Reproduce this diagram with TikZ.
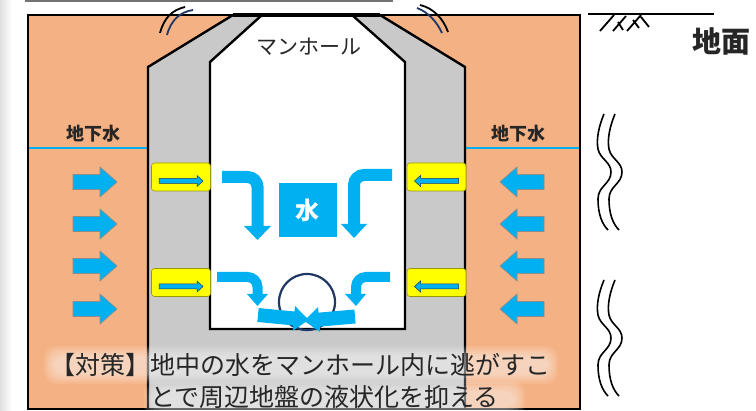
\documentclass[tikz,border=0pt]{standalone}
\usepackage{fontspec}
\setmainfont{Noto Sans CJK JP}
\usepackage{xcolor}
\usetikzlibrary{positioning}

\definecolor{soil}{HTML}{F4B183}
\definecolor{concrete}{HTML}{C9C9C9}
\definecolor{water}{HTML}{00B0F0}
\definecolor{navy}{HTML}{1F3864}
\definecolor{ventyellow}{HTML}{FFFF00}
\definecolor{ink}{HTML}{262626}

\tikzset{
  gwlabel/.style={font=\bfseries\fontsize{18}{18}\selectfont, text=ink, inner sep=0pt},
  captext/.style={font=\fontsize{25}{25}\selectfont, text=ink, inner sep=0pt, anchor=west},
  glow/.style={fill=white, fill opacity=0.1, rounded corners=12pt},
  ventbox/.style={draw=black!40!ventyellow, fill=ventyellow, rounded corners=3pt,
    minimum width=59pt, minimum height=28pt, inner sep=0pt, line width=0.6pt},
  flow/.style={water, line width=12pt, rounded corners=10pt},
  inflow/.pic={\filldraw[fill=water, draw=black!45, line width=0.6pt]
    (-22,-7.5) -- (5,-7.5) -- (5,-15) -- (22,0) -- (5,15) -- (5,7.5) -- (-22,7.5) -- cycle;},
  ventarrow/.pic={\filldraw[fill=water, draw=navy, line width=0.5pt]
    (-22,-2.5) -- (16,-2.5) -- (16,-5.5) -- (22,0) -- (16,5.5) -- (16,2.5) -- (-22,2.5) -- cycle;},
  fatarrow/.pic={\fill[water]
    (0,-7) -- (36,-7) -- (36,-12.5) -- (51,0) -- (36,12.5) -- (36,7) -- (0,7) -- cycle;},
  breakmark/.pic={\foreach \dx in {0,11}
    \draw[line width=1.6pt, xshift=\dx] (8,0) .. controls (3,12) and (0,25) .. (2,35)
      .. controls (4,45) and (15,48) .. (15,58) .. controls (15,70) and (2,72) .. (2,85)
      .. controls (2,100) and (6,110) .. (12,116);}
}

\begin{document}
\begin{tikzpicture}[x=1pt, y=-1pt]
\useasboundingbox (0,0) rectangle (756,411);

% page edge
\shade[left color=black!12, right color=white] (0,0) rectangle (12,411);
\fill[black!55] (25,0) rectangle (393,2.5);

% ground and manhole
\fill[soil] (28,15) rectangle (580,409);
\draw[water, line width=1.3pt] (28,148) -- (148,148) (465,148) -- (580,148);
\filldraw[fill=concrete, draw=black, line width=2.4pt, line join=miter]
  (148,409) -- (148,67) -- (233,15) -- (380,15) -- (465,67) -- (465,409);
\filldraw[fill=white, draw=black, line width=2.4pt, line join=miter]
  (210,329) -- (210,62) -- (262,15) -- (352,15) -- (405,62) -- (405,329) -- cycle;
\draw[line width=1.4pt] (28,15) rectangle (580,409);
\draw[line width=3.5pt] (233,15) -- (380,15);

% joints at the top
\draw[line width=1.8pt] (160,33) .. controls (164,18) and (172,10) .. (185,7);
\draw[navy, line width=1.8pt] (167,35) .. controls (171,20) and (180,12) .. (193,10);
\draw[line width=1.8pt] (420,5) .. controls (433,8) and (443,18) .. (448,32);
\draw[navy, line width=1.8pt] (417,8) .. controls (428,12) and (437,22) .. (442,33);

\node[gwlabel] (gwleft) at (93,134) {地下水};
\node[gwlabel] (gwright) at (518,134) {地下水};
\node[font=\fontsize{21}{21}\selectfont, text=ink, inner sep=0pt] (manhole) at (309,47) {マンホール};

% groundwater pushing in
\foreach \y in {182,224,266,309} {
  \pic at (95,\y) {inflow};
  \pic[xscale=-1] at (522,\y) {inflow};
}

% openings in the wall
\node[ventbox] (ventLa) at (181,177) {};
\node[ventbox] (ventLb) at (181,282.5) {};
\node[ventbox] (ventRa) at (436.5,177) {};
\node[ventbox] (ventRb) at (436.5,282.5) {};
\pic at ([yshift=-4]ventLa.center) {ventarrow};
\pic at ([yshift=-4]ventLb.center) {ventarrow};
\pic[xscale=-1] at ([yshift=-4]ventRa.center) {ventarrow};
\pic[xscale=-1] at ([yshift=-4]ventRb.center) {ventarrow};

\node[fill=water, minimum width=58pt, minimum height=54pt, inner sep=0pt,
  text=white, font=\bfseries\fontsize{24}{24}\selectfont] (mizu) at (307.5,210) {水};

% water running down inside
\draw[flow] (222,177) -| (257.5,228);
\fill[water] (244,226) -- (271,226) -- (257.5,240) -- cycle;
\draw[flow] (392,175) -| (354,226);
\fill[water] (341,224) -- (367,224) -- (354,238) -- cycle;
\draw[flow, line width=10pt] (217,277) -| (257.5,296);
\fill[water] (247,294) -- (268,294) -- (257.5,306) -- cycle;
\draw[flow, line width=10pt] (390,277) -| (356,296);
\fill[water] (345,294) -- (366,294) -- (356,306) -- cycle;

\draw[navy, line width=2.2pt] (307,302) circle (28);
\pic[rotate=-5.5] at (258,315) {fatarrow};
\pic[rotate=185] at (355,316.5) {fatarrow};

% surface
\draw[line width=2.5pt] (588,14) -- (714,14);
\draw[line width=1.8pt] (600,31) -- (614,15) (613,31) -- (626,16) (618,22) -- (623,30)
  (627,31) -- (641,15) (633,20) -- (639,28) (641,17) -- (649,27);
\node[font=\bfseries\fontsize{29}{29}\selectfont, text=ink, inner sep=0pt, anchor=west] (surface) at (692,41) {地面};

\pic at (596,114) {breakmark};
\pic at (596,280) {breakmark};

% caption on a soft light band
\foreach \g in {0,2,...,10} {
  \fill[glow] (44+\g,346+\g) rectangle (558-\g,384-\g);
  \fill[glow] (144+\g,381+\g) rectangle (525-\g,418-\g);
}
\node[captext] (capA) at (50,365) {【対策】地中の水をマンホール内に逃がすこ};
\node[captext] (capB) at (150,397) {とで周辺地盤の液状化を抑える};
\end{tikzpicture}
\end{document}
